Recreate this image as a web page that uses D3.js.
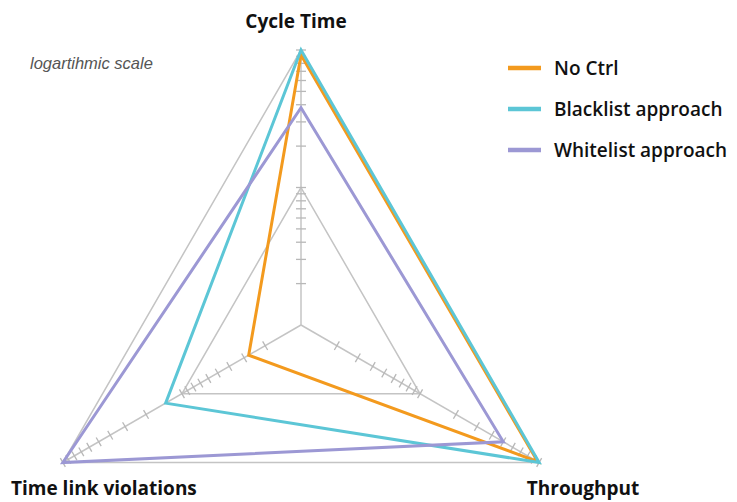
<!DOCTYPE html>
<html>
<head>
<meta charset="utf-8">
<script src="https://cdn.jsdelivr.net/npm/d3@7"></script>
<style>
  body { margin: 0; background: #fff; }
  svg { display: block; }
</style>
</head>
<body>
<div id="chart"></div>
<script>
// axes of the radar, clockwise from the top
const axesNames = ["Cycle Time", "Throughput", "Time link violations"];

// series values (log scale, 1..100)
const seriesNames = ["No Ctrl", "Blacklist approach", "Whitelist approach"];
const noCtrl = [92, 97, 2.75];
const blacklist = [100, 100, 13.7];
const whitelist = [38, 50, 100];

// ring levels and minor tick values
const ringValues = [10, 100];
const tickValues = [2, 3, 4, 5, 6, 7, 8, 9, 10, 20, 30, 40, 50, 60, 70, 80, 90, 100];

const colors = ["#F39A1E", "#5CC6D6", "#9C98D4"];

const width = 737, height = 502;
const cx = 301, cy = 325;

const svg = d3.select("#chart").append("svg")
    .attr("width", width)
    .attr("height", height);

// radius scale
const r = d3.scaleLog().domain([1, 100]).range([0, 275]);

// angle for each axis (top, lower right, lower left)
const angle = d3.scaleOrdinal()
    .domain(axesNames)
    .range([-Math.PI / 2, Math.PI / 6, Math.PI * 5 / 6]);

function point(axis, v) {
    let a = angle(axis);
    let rad = v <= 1 ? 0 : r(v);
    return [cx + rad * Math.cos(a), cy + rad * Math.sin(a)];
}

// grid triangles
let grid = svg.append("g").attr("class", "grid");
ringValues.forEach(v => {
    grid.append("path")
        .attr("d", d3.line()(axesNames.map(a => point(a, v))) + "Z")
        .attr("fill", "none")
        .attr("stroke", "#c4c4c4")
        .attr("stroke-width", 1.5);
});

// spokes and log ticks
axesNames.forEach(axis => {
    let end = point(axis, 100);
    grid.append("line")
        .attr("x1", cx).attr("y1", cy)
        .attr("x2", end[0]).attr("y2", end[1])
        .attr("stroke", "#c4c4c4")
        .attr("stroke-width", 1.5);

    let a = angle(axis);
    let px = -Math.sin(a), py = Math.cos(a);
    tickValues.forEach(t => {
        let p = point(axis, t);
        grid.append("line")
            .attr("x1", p[0] - px * 5).attr("y1", p[1] - py * 5)
            .attr("x2", p[0] + px * 5).attr("y2", p[1] + py * 5)
            .attr("stroke", "#b8b8b8")
            .attr("stroke-width", 1.3);
    });
});

// series
const allSeries = [noCtrl, blacklist, whitelist];
svg.append("g").selectAll("path")
    .data(allSeries)
    .enter().append("path")
    .attr("d", d => d3.line()(axesNames.map((a, i) => point(a, d[i]))) + "Z")
    .attr("fill", "none")
    .attr("stroke", (d, i) => colors[i])
    .attr("stroke-width", 3)
    .attr("stroke-linejoin", "miter");

// axis labels
const labelPos = [[296, 28, "middle"], [583, 495, "middle"], [11, 495, "start"]];
svg.append("g").selectAll("text")
    .data(axesNames)
    .enter().append("text")
    .attr("x", (d, i) => labelPos[i][0])
    .attr("y", (d, i) => labelPos[i][1])
    .attr("text-anchor", (d, i) => labelPos[i][2])
    .style("font-family", "'Open Sans', sans-serif")
    .style("font-weight", 700)
    .style("font-size", "19px")
    .attr("fill", "#111")
    .text(d => d);

// note
svg.append("text")
    .attr("x", 30).attr("y", 69)
    .style("font-family", "'Liberation Sans', Arial, sans-serif")
    .style("font-style", "italic")
    .style("font-size", "16.5px")
    .attr("fill", "#555")
    .text("logartihmic scale");

// legend
let legend = svg.append("g").attr("class", "legend");
seriesNames.forEach((name, i) => {
    let y = 68 + i * 41;
    legend.append("line")
        .attr("x1", 508).attr("x2", 541)
        .attr("y1", y).attr("y2", y)
        .attr("stroke", colors[i])
        .attr("stroke-width", 4.5);
    legend.append("text")
        .attr("x", 554).attr("y", y + 7)
        .style("font-family", "'Open Sans', sans-serif")
        .style("font-weight", 600)
        .style("font-size", "19px")
        .attr("fill", "#111")
        .text(name);
});
</script>
</body>
</html>
